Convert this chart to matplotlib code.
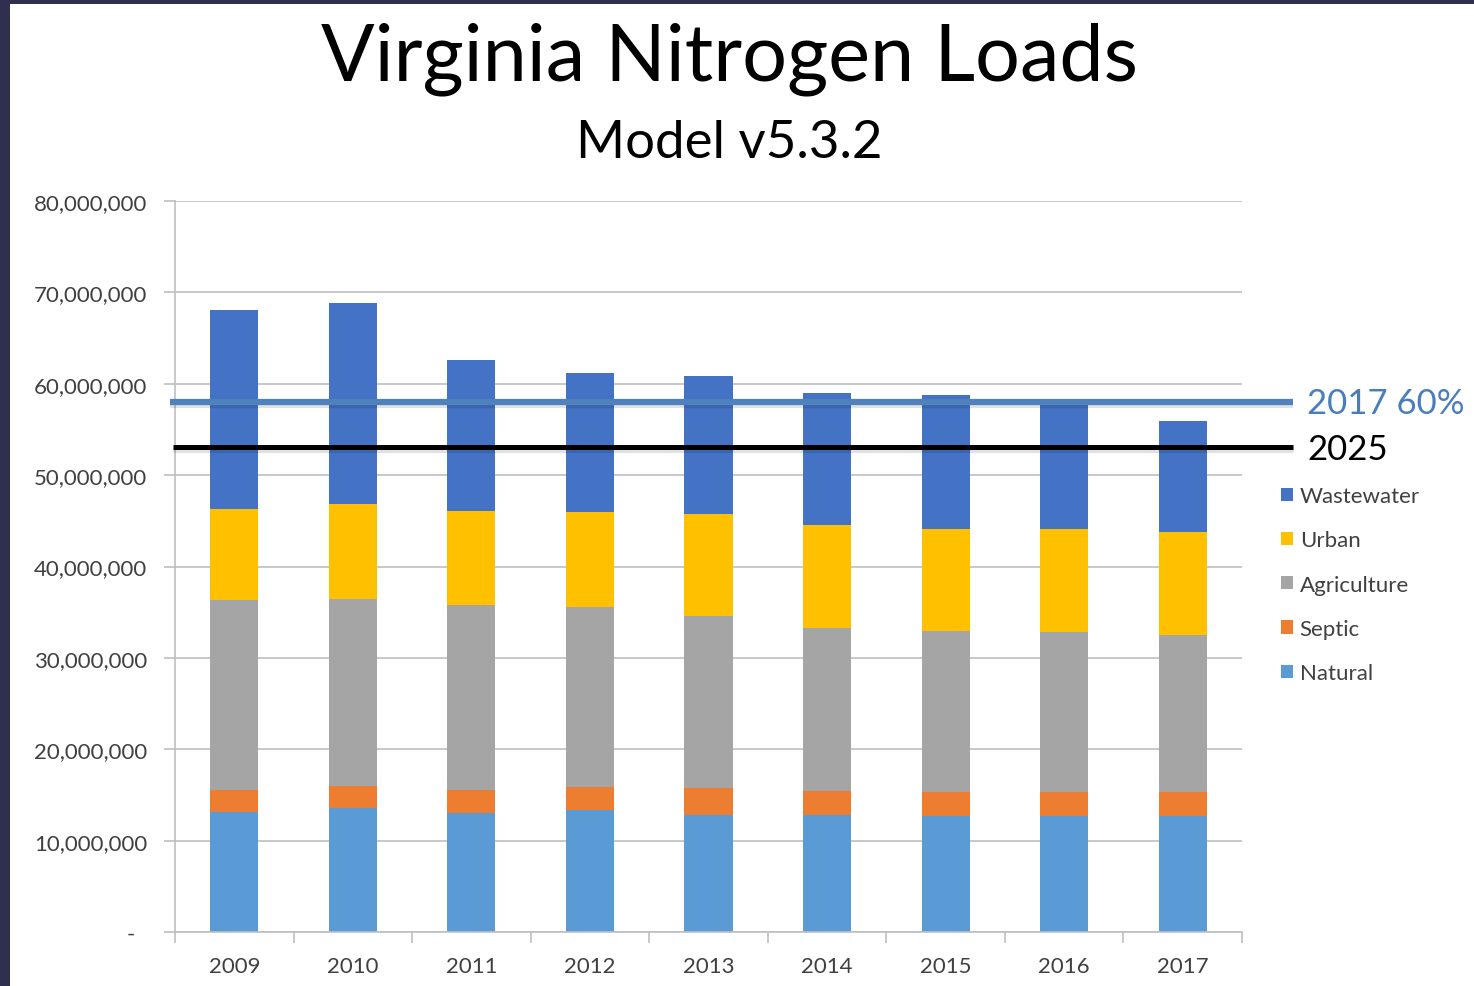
import matplotlib.pyplot as plt
import matplotlib.patheffects as pe
from matplotlib.patches import Patch, Rectangle
from matplotlib.ticker import FuncFormatter

plt.rcParams['font.family'] = ['Lato', 'DejaVu Sans']

# loads (millions of lbs), stacked bottom -> top
years = ["2009", "2010", "2011", "2012", "2013", "2014", "2015", "2016", "2017"]
natural = [13.13, 13.57, 13.02, 13.35, 12.80, 12.80, 12.69, 12.69, 12.69]
septic = [2.41, 2.41, 2.52, 2.52, 2.96, 2.63, 2.63, 2.63, 2.63]
agriculture = [20.79, 20.46, 20.25, 19.70, 18.82, 17.84, 17.62, 17.51, 17.18]
urban = [9.96, 10.40, 10.28, 10.39, 11.17, 11.27, 11.16, 11.27, 11.28]
wastewater = [21.78, 22.00, 16.53, 15.22, 15.10, 14.45, 14.67, 13.70, 12.14]

target_2017 = 58.0e6
target_2025 = 53.08e6

series = [
    ("Natural", natural, "#5B9BD5"),
    ("Septic", septic, "#ED7D31"),
    ("Agriculture", agriculture, "#A5A5A5"),
    ("Urban", urban, "#FFC000"),
    ("Wastewater", wastewater, "#4472C4"),
]

fig = plt.figure(figsize=(14.74, 9.87), dpi=100)
fig.patch.set_facecolor("#2F3050")
fig.add_artist(Rectangle((10 / 1474, 0), 1, (987 - 5) / 987, transform=fig.transFigure,
                         facecolor="white", edgecolor="none", zorder=0))

ax = fig.add_axes([175 / 1474, 54 / 987, 1067 / 1474, 731 / 987])
ax.set_facecolor("white")

x = list(range(len(years)))
bottom = [0.0] * len(years)
handles = []
for name, vals, color in series:
    v = [a * 1e6 for a in vals]
    ax.bar(x, v, width=0.405, bottom=bottom, color=color, zorder=2)
    bottom = [b + c for b, c in zip(bottom, v)]
    handles.append(Patch(facecolor=color, label=name))

ax.set_xlim(-0.5, 8.5)
ax.set_ylim(0, 80e6)
ax.set_yticks([i * 10e6 for i in range(9)])
ax.yaxis.set_major_formatter(FuncFormatter(lambda v, p: "-  " if v == 0 else f"{int(v):,}"))
ax.grid(axis="y", color="#BFBFBF", linewidth=1.2, zorder=0)
ax.set_axisbelow(True)

ax.set_xticks(x)
ax.set_xticklabels(years)
ax.set_xticks([i - 0.5 for i in range(len(years) + 1)], minor=True)
ax.tick_params(axis="x", which="major", length=0, pad=17, labelsize=16, labelcolor="#404040")
ax.tick_params(axis="x", which="minor", length=8, width=1.2, color="#BFBFBF", direction="out")
ax.tick_params(axis="y", length=8, width=1.2, color="#BFBFBF", pad=12, labelsize=16,
               labelcolor="#404040")

for s in ["top", "right"]:
    ax.spines[s].set_visible(False)
for s in ["left", "bottom"]:
    ax.spines[s].set_color("#BFBFBF")
    ax.spines[s].set_linewidth(1.2)

shadow = [pe.SimpleLineShadow(offset=(0, -2.5), alpha=0.12), pe.Normal()]
ax.plot([-0.54, 8.93], [target_2017, target_2017], color="#4F81BD", lw=4.5,
        clip_on=False, zorder=5, path_effects=shadow, solid_capstyle="butt")
ax.plot([-0.52, 8.93], [target_2025, target_2025], color="black", lw=3.6,
        clip_on=False, zorder=5, path_effects=shadow, solid_capstyle="butt")
ax.text(9.05, target_2017 - 0.1e6, "2017 60%", color="#4A7EBB", fontsize=25, va="center", ha="left")
ax.text(9.05, target_2025 - 0.2e6, "2025", color="black", fontsize=25, va="center", ha="left")

leg = ax.legend(handles=handles[::-1], loc="upper left", bbox_to_anchor=(1.028, 0.622),
                frameon=False, fontsize=16, handlelength=0.55, handleheight=0.55,
                handletextpad=0.3, labelspacing=1.09, borderaxespad=0)
for t in leg.get_texts():
    t.set_color("#404040")

fig.text(0.495, 0.94, "Virginia Nitrogen Loads", fontsize=57, ha="center", va="center")
fig.text(0.495, 0.855, "Model v5.3.2", fontsize=38, ha="center", va="center")

fig.savefig("out.png", dpi=100, facecolor=fig.get_facecolor())
